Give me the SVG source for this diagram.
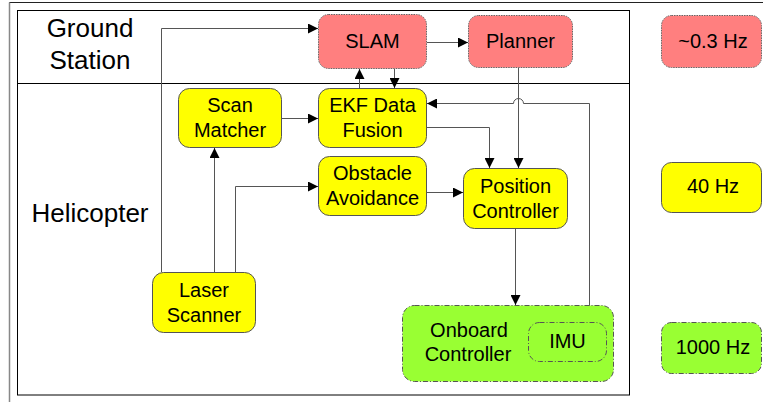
<svg xmlns="http://www.w3.org/2000/svg" width="763" height="402" viewBox="0 0 763 402">
<defs>
<style>
text{font-family:"Liberation Sans",Arial,sans-serif;fill:#000;text-anchor:middle}
.n{font-size:20px}
.lbl{font-size:26px}
.red{fill:#FF7F7F;stroke:#666;stroke-width:1;stroke-dasharray:1.5 1}
.yel{fill:#FFFF00;stroke:#555;stroke-width:1}
.grn{fill:#99FF33;stroke:#555;stroke-width:1;stroke-dasharray:5 2 1 2}
.imu{fill:none;stroke:#555;stroke-width:1;stroke-dasharray:5 2 1 2}
.c{fill:none;stroke:#555;stroke-width:1}
</style>
<marker id="a" viewBox="0 0 10 10" refX="10" refY="5" markerWidth="10" markerHeight="10" markerUnits="userSpaceOnUse" orient="auto">
<path d="M0,0 L10,5 L0,10 z" fill="#000"/>
</marker>
</defs>
<rect width="763" height="402" fill="#fff"/>
<g id="frame">
<path d="M763,2.5 H9.5 V402" fill="none" stroke="#222" stroke-width="1"/>
<path d="M9.5,2.5 V402" fill="none" stroke="#888" stroke-width="1.5"/>
<rect x="17.5" y="10.5" width="612" height="384.5" fill="none" stroke="#000" stroke-width="1"/>
<line x1="17.5" y1="83.5" x2="629.5" y2="83.5" stroke="#000" stroke-width="1"/>
<text class="lbl" x="90" y="37">Ground</text>
<text class="lbl" x="90" y="69">Station</text>
<text class="lbl" x="90" y="222">Helicopter</text>
</g>
<g id="connectors">
<path class="c" d="M161.5,272 V28.5 H318" marker-end="url(#a)"/>
<path class="c" d="M214.5,272 V148" marker-end="url(#a)"/>
<path class="c" d="M235.5,272 V186.5 H318" marker-end="url(#a)"/>
<path class="c" d="M282,118.5 H318" marker-end="url(#a)"/>
<path class="c" d="M359.5,88 V69" marker-end="url(#a)"/>
<path class="c" d="M394.5,69 V88" marker-end="url(#a)"/>
<path class="c" d="M427,42.5 H468" marker-end="url(#a)"/>
<path class="c" d="M518.5,68 V168" marker-end="url(#a)"/>
<path class="c" d="M427,127.5 H489.5 V168" marker-end="url(#a)"/>
<path class="c" d="M427,192.5 H463" marker-end="url(#a)"/>
<path class="c" d="M515.5,229 V305" marker-end="url(#a)"/>
<path class="c" d="M589.5,322 V103.5 H523.5 A5,5 0 0 0 513.5,103.5 H427" marker-end="url(#a)"/>
</g>
<g id="slam"><rect class="red" x="318.5" y="14.5" width="108" height="54" rx="10"/><text class="n" x="372.5" y="48">SLAM</text></g>
<g id="planner"><rect class="red" x="468.5" y="15.5" width="104" height="52" rx="10"/><text class="n" x="520.5" y="48">Planner</text></g>
<g id="hz03"><rect class="red" x="661.5" y="15.5" width="100" height="52" rx="10"/><text class="n" x="713" y="48">~0.3 Hz</text></g>
<g id="scan"><rect class="yel" x="178.5" y="88.5" width="103" height="59" rx="11"/><text class="n" x="230" y="112">Scan</text><text class="n" x="230" y="137">Matcher</text></g>
<g id="ekf"><rect class="yel" x="318.5" y="88.5" width="108" height="59" rx="11"/><text class="n" x="372.5" y="112">EKF Data</text><text class="n" x="372.5" y="137">Fusion</text></g>
<g id="obstacle"><rect class="yel" x="318.5" y="156.5" width="108" height="59" rx="11"/><text class="n" x="372.5" y="180">Obstacle</text><text class="n" x="372.5" y="205">Avoidance</text></g>
<g id="position"><rect class="yel" x="463.5" y="168.5" width="104" height="60" rx="11"/><text class="n" x="515.5" y="193">Position</text><text class="n" x="515.5" y="218">Controller</text></g>
<g id="hz40"><rect class="yel" x="661.5" y="162.5" width="100" height="50" rx="10"/><text class="n" x="713" y="193">40 Hz</text></g>
<g id="laser"><rect class="yel" x="152.5" y="272.5" width="103" height="60" rx="11"/><text class="n" x="204" y="297">Laser</text><text class="n" x="204" y="322">Scanner</text></g>
<g id="onboard"><rect class="grn" x="402.5" y="305.5" width="211" height="76" rx="12"/><text class="n" x="469" y="337">Onboard</text><text class="n" x="468" y="361">Controller</text></g>
<g id="imu"><rect class="imu" x="528.5" y="322.5" width="78" height="39" rx="11"/><text class="n" x="567.5" y="348">IMU</text></g>
<g id="hz1000"><rect class="grn" x="661.5" y="322.5" width="100" height="51" rx="10"/><text class="n" x="713" y="354">1000 Hz</text></g>
</svg>
